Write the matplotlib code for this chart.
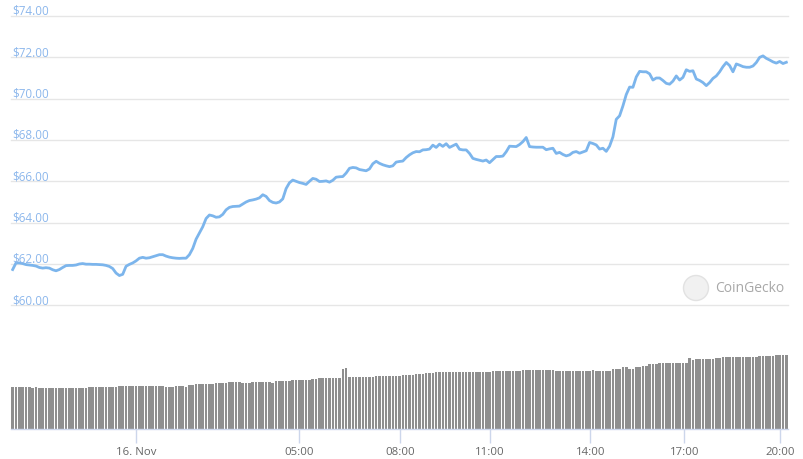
import matplotlib
matplotlib.use("Agg")
import matplotlib.pyplot as plt
from matplotlib.patches import Circle
import numpy as np

plt.rcParams['font.family'] = ['Open Sans', 'DejaVu Sans']

# ---- data ----
price = [
    61.73, 62.05, 62.05, 62.02, 61.97, 61.95, 61.93, 61.90, 61.83, 61.80,
    61.82, 61.80, 61.72, 61.67, 61.73, 61.83, 61.92, 61.93, 61.93, 61.95,
    62.00, 62.02, 61.99, 61.99, 61.98, 61.98, 61.97, 61.96, 61.93, 61.88,
    61.78, 61.56, 61.44, 61.50, 61.89, 61.98, 62.05, 62.15, 62.28, 62.32,
    62.28, 62.30, 62.35, 62.40, 62.45, 62.45, 62.38, 62.33, 62.30, 62.28,
    62.27, 62.28, 62.28, 62.45, 62.75, 63.20, 63.50, 63.80, 64.20, 64.37,
    64.33, 64.26, 64.28, 64.40, 64.62, 64.74, 64.78, 64.79, 64.80, 64.90,
    65.00, 65.07, 65.10, 65.14, 65.20, 65.35, 65.27, 65.07, 64.98, 64.95,
    65.00, 65.15, 65.65, 65.93, 66.06, 66.00, 65.94, 65.90, 65.85, 66.00,
    66.14, 66.10, 65.99, 66.00, 66.02, 65.96, 66.05, 66.20, 66.22, 66.23,
    66.40, 66.63, 66.67, 66.65, 66.57, 66.54, 66.51, 66.60, 66.85, 66.97,
    66.87, 66.80, 66.75, 66.71, 66.75, 66.93, 66.96, 66.98, 67.15, 67.28,
    67.38, 67.44, 67.43, 67.52, 67.53, 67.56, 67.75, 67.64, 67.80, 67.69,
    67.82, 67.64, 67.72, 67.80, 67.55, 67.52, 67.52, 67.35, 67.11, 67.06,
    67.02, 66.98, 67.03, 66.90, 67.05, 67.20, 67.20, 67.22, 67.43, 67.70,
    67.69, 67.68, 67.78, 67.92, 68.12, 67.68, 67.66, 67.65, 67.65, 67.65,
    67.53, 67.57, 67.60, 67.35, 67.40, 67.30, 67.23, 67.28, 67.40, 67.44,
    67.36, 67.42, 67.48, 67.88, 67.83, 67.76, 67.56, 67.60, 67.45, 67.70,
    68.15, 69.00, 69.17, 69.65, 70.20, 70.56, 70.55, 71.05, 71.32, 71.30,
    71.30, 71.20, 70.90, 71.00, 71.00, 70.88, 70.74, 70.70, 70.85, 71.10,
    70.90, 71.03, 71.40, 71.32, 71.35, 70.95, 70.88, 70.78, 70.63, 70.78,
    70.98, 71.10, 71.30, 71.55, 71.75, 71.60, 71.30, 71.68, 71.62, 71.55,
    71.52, 71.52, 71.58, 71.75, 72.00, 72.07, 71.95, 71.87, 71.78, 71.72,
    71.80, 71.70, 71.76,
]

volume = (
    [42] * 6 + [41, 42, 41, 41, 41] + [41] * 12 + [41.7] * 8 + [42] + [43] * 14
    + [42] * 3 + [43] * 3 + [42.3] + [43.7] * 2 + [44.7] * 6 + [46] * 4 + [47] * 4
    + [46.3] * 3 + [47.3] * 6 + [46.3] + [48] * 5 + [49] * 6 + [50] * 2 + [50.7] * 7
    + [60, 61] + [52] * 8 + [52.7] * 8 + [54] * 4 + [55.3] * 3 + [56.3] * 3
    + [57.3] * 17 + [58] * 9 + [59] * 10 + [58] * 10 + [58, 59, 58, 58, 58, 58, 58]
    + [59.7] * 3 + [62, 62, 60, 60, 62, 62, 63.3, 63.3, 65, 65, 65] + [66] * 9
    + [71, 69] + [70] * 6 + [71] * 2 + [72.3] * 11 + [73] * 5 + [74.3] * 3 + [74]
)

tick_labels = ["16. Nov", "05:00", "08:00", "11:00", "14:00", "17:00", "20:00"]
tick_index = [36.9, 85.8, 116.2, 143.2, 173.2, 201.4, 230.2]

price_levels = [60, 62, 64, 66, 68, 70, 72, 74]

# ---- figure ----
W, H = 804, 460
fig = plt.figure(figsize=(W / 100, H / 100), dpi=100)
fig.patch.set_facecolor("white")

left = 11 / W
width = 777 / W

n = len(price)
x = np.arange(n)

# price axes
axp = fig.add_axes([left, 1 - 306.3 / H, width, (306.3 - 17) / H])
axp.set_xlim(-0.5, n - 0.5)
axp.set_ylim(60, 74)
for v in price_levels:
    axp.axhline(v, color="#e6e6e6", lw=1.0, zorder=1, clip_on=False)
    axp.annotate(f"${v:.2f}", xy=(0, v), xycoords=("axes fraction", "data"),
                 xytext=(1, 2), textcoords="offset pixels", va="baseline",
                 ha="left", fontsize=8.4, color="#8cb7ec", zorder=3)
axp.plot(x, price, color="#7cb5ec", lw=2.0, zorder=2, solid_joinstyle="round")
axp.axis("off")

# watermark (CoinGecko)
logo = Circle((6.96, (H - 289) / 100), radius=0.125, transform=fig.dpi_scale_trans,
              facecolor="#f1f1f1", edgecolor="#e2e2e2", lw=1, zorder=0)
fig.patches.append(logo)
fig.text(715 / W, 1 - 289 / H, "CoinGecko", fontsize=10, color="#a8a8a8",
         va="center", ha="left")

# volume axes
axv = fig.add_axes([left, 1 - 430 / H, width, 90 / H])
axv.set_xlim(-0.5, n - 0.5)
axv.set_ylim(0, 90)
axv.bar(x, volume, width=0.78, color="#8f8f8f", linewidth=0, zorder=2)
for s in ("top", "right", "left"):
    axv.spines[s].set_visible(False)
axv.spines["bottom"].set_color("#ccd6eb")
axv.spines["bottom"].set_linewidth(1)
axv.set_yticks([])
axv.set_xticks(tick_index)
axv.set_xticklabels(tick_labels)
axv.tick_params(axis="x", length=10, width=1, color="#ccd6eb",
                labelsize=8.2, labelcolor="#666666", pad=2)
axv.set_facecolor("none")

fig.savefig("out.png", dpi=100)
